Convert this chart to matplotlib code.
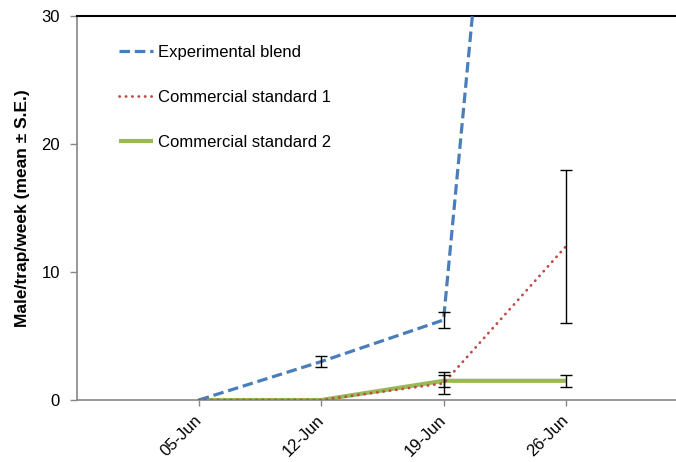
import matplotlib
matplotlib.use("Agg")
import matplotlib.pyplot as plt
import numpy as np

plt.rcParams['font.family'] = ['Liberation Sans', 'DejaVu Sans']

weeks = ["05-Jun", "12-Jun", "19-Jun", "26-Jun"]

experimental = [0, 3.0, 6.25, 107]
experimental_se = [0, 0.4, 0.65, 0]

commercial1 = [0, 0, 1.3, 12.0]
commercial1_se = [0, 0, 0.85, 6.0]

commercial2 = [0, 0, 1.5, 1.5]
commercial2_se = [0, 0, 0.47, 0.47]

W, H = 676, 462
fig = plt.figure(figsize=(W / 100, H / 100), dpi=100)
ax = fig.add_axes([76.5 / W, 1 - 400 / H, 611.7 / W, 384 / H])

x = np.arange(1, len(weeks) + 1)
axis_grey = "#868686"

ax.plot(x, experimental, color="#4A7EBB", lw=2.3, ls=(0, (3.3, 1.5)),
        dash_capstyle="butt", label="Experimental blend", zorder=3)
ax.plot(x, commercial1, color="#BE4B48", lw=2.0, ls=(0, (0.1, 2.2)),
        dash_capstyle="round", label="Commercial standard 1", zorder=3)
ax.plot(x, commercial2, color="#98B954", lw=3.0, solid_capstyle="butt",
        label="Commercial standard 2", zorder=2)

for vals, se in ((experimental, experimental_se),
                 (commercial1, commercial1_se),
                 (commercial2, commercial2_se)):
    v = np.array(vals, float)
    s = np.array(se, float)
    m = s > 0
    ax.errorbar(x[m], v[m], yerr=s[m], fmt="none", ecolor="black",
                elinewidth=1.0, capsize=4, capthick=1.0, zorder=4)

ax.set_xlim(0, 5)
ax.set_ylim(0, 30)
ax.set_yticks([0, 10, 20, 30])
ax.set_xticks(x)
ax.set_xticklabels(weeks, rotation=45, ha="right", va="center",
                   rotation_mode="anchor", fontsize=12)
ax.tick_params(axis="y", labelsize=12, length=5, width=1, color=axis_grey,
               pad=7)
ax.tick_params(axis="x", length=4, width=1, color=axis_grey, pad=9)

for side in ("left", "bottom"):
    ax.spines[side].set_color(axis_grey)
    ax.spines[side].set_linewidth(1.2)
ax.spines["top"].set_color("black")
ax.spines["top"].set_linewidth(1.5)
ax.spines["right"].set_visible(False)

ax.set_ylabel("Male/trap/week (mean ± S.E.)", fontsize=12.5,
              fontweight="bold", labelpad=8)

ax.legend(loc="upper left", bbox_to_anchor=(0.07, 0.924), frameon=False,
          fontsize=12, handlelength=2.0, handletextpad=0.3,
          labelspacing=1.8, borderaxespad=0, borderpad=0)

fig.savefig("out.png", dpi=100)
